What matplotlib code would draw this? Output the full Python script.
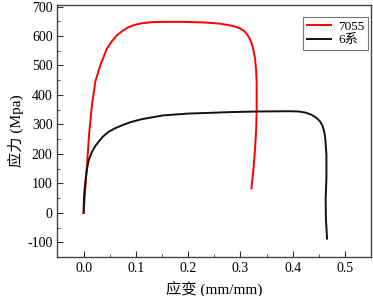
import matplotlib
matplotlib.use("Agg")
import matplotlib.pyplot as plt
from matplotlib.ticker import MultipleLocator

plt.rcParams['font.family'] = ['Liberation Serif', 'Noto Sans CJK SC']
plt.rcParams['axes.unicode_minus'] = False

# 7055 stress-strain curve
strain_7055 = [0.0, 0.003, 0.0065, 0.0109, 0.016, 0.0223, 0.032, 0.0446, 0.054, 0.0637,
               0.075, 0.086, 0.098, 0.111, 0.13, 0.153, 0.19, 0.23, 0.26, 0.28,
               0.292, 0.300, 0.307, 0.313, 0.318, 0.322, 0.325, 0.328, 0.330, 0.331,
               0.331, 0.330, 0.328, 0.325, 0.321]
stress_7055 = [0, 75, 162, 275, 365, 444, 501, 557, 582, 602,
               618, 630, 638, 643, 647, 648, 648, 646, 642, 636,
               631, 625, 617, 605, 590, 572, 552, 523, 485, 444,
               342, 280, 218, 150, 83]

# 6系 stress-strain curve
strain_6 = [0.0, 0.0005, 0.002, 0.0045, 0.0065, 0.010, 0.016, 0.022, 0.0286, 0.037,
            0.0477, 0.06, 0.0733, 0.09, 0.111, 0.153, 0.2, 0.25, 0.28, 0.33,
            0.394, 0.412, 0.425, 0.436, 0.445, 0.452, 0.457, 0.460, 0.462, 0.463,
            0.4645, 0.4645, 0.463, 0.4635, 0.4657]
stress_6 = [0, 40, 83, 122, 150, 180, 207, 226, 241, 259,
            275, 287, 297, 308, 318, 331, 337, 340, 342, 344,
            345, 344, 340, 333, 323, 311, 296, 278, 258, 235,
            196, 120, 49, -20, -87]

fig = plt.figure(figsize=(3.73, 2.96), dpi=100)
ax = fig.add_axes([0.154, 0.131, 0.841, 0.852])

ax.plot(strain_7055, stress_7055, color='#ff0000', lw=1.4, label='7055')
ax.plot(strain_6, stress_6, color='#111111', lw=1.4, label='6系')

ax.set_xlim(-0.05, 0.55)
ax.set_ylim(-150, 705)
ax.xaxis.set_major_locator(MultipleLocator(0.1))
ax.xaxis.set_minor_locator(MultipleLocator(0.05))
ax.yaxis.set_major_locator(MultipleLocator(100))
ax.yaxis.set_minor_locator(MultipleLocator(50))
ax.set_xticks([0.0, 0.1, 0.2, 0.3, 0.4, 0.5])
ax.set_xticklabels(['0.0', '0.1', '0.2', '0.3', '0.4', '0.5'])
ax.tick_params(which='both', direction='in', labelsize=10, color='#333333')
ax.tick_params(which='major', length=4)
ax.tick_params(which='minor', length=2.5)
for s in ax.spines.values():
    s.set_color('#444444')
    s.set_linewidth(1.0)

ax.set_xlabel('应变 (mm/mm)', fontsize=11, labelpad=4)
ax.set_ylabel('应力 (Mpa)', fontsize=11, labelpad=2)

leg = ax.legend(loc='upper right', bbox_to_anchor=(0.99, 0.952), fontsize=9.5,
                frameon=True, fancybox=False, edgecolor='#555555',
                handlelength=1.8, borderpad=0.25, labelspacing=0.1,
                handletextpad=0.6, borderaxespad=0.0)
leg.get_frame().set_linewidth(0.8)

fig.savefig('out.png', dpi=100)
